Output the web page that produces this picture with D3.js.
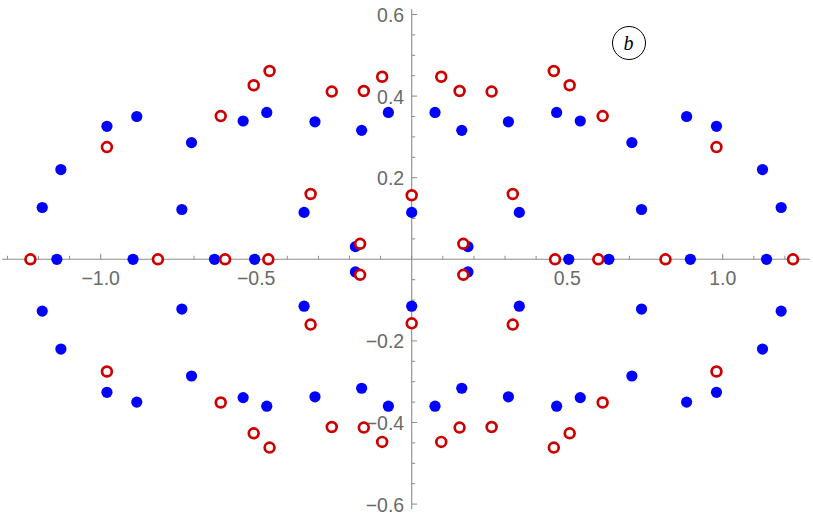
<!DOCTYPE html>
<html>
<head>
<meta charset="utf-8">
<script src="https://cdn.jsdelivr.net/npm/d3@7"></script>
<style>
  html, body { margin: 0; padding: 0; background: #fff; }
  svg { display: block; }
</style>
</head>
<body>
<svg id="chart" width="813" height="521"></svg>
<script>
// ---- data ----
const blueX = [
  0, 0,
  0.505, 0.634, 0.896, 1.141, -0.505, -0.634, -0.896, -1.141,
  0.075, 0.161, 0.181, 0.311, 0.346, 0.466, 0.542, 0.708, 0.739, 0.884, 0.980, 1.128, 1.188,
  -0.075, -0.161, -0.181, -0.311, -0.346, -0.466, -0.542, -0.708, -0.739, -0.884, -0.980, -1.128, -1.188,
  0.075, 0.161, 0.181, 0.311, 0.346, 0.466, 0.542, 0.708, 0.739, 0.884, 0.980, 1.128, 1.188,
  -0.075, -0.161, -0.181, -0.311, -0.346, -0.466, -0.542, -0.708, -0.739, -0.884, -0.980, -1.128, -1.188
];
const blueY = [
  0.115, -0.115,
  0, 0, 0, 0, 0, 0, 0, 0,
  0.360, 0.316, 0.031, 0.337, 0.115, 0.360, 0.339, 0.286, 0.122, 0.350, 0.326, 0.220, 0.127,
  0.360, 0.316, 0.031, 0.337, 0.115, 0.360, 0.339, 0.286, 0.122, 0.350, 0.326, 0.220, 0.127,
  -0.360, -0.316, -0.031, -0.337, -0.115, -0.360, -0.339, -0.286, -0.122, -0.350, -0.326, -0.220, -0.127,
  -0.360, -0.316, -0.031, -0.337, -0.115, -0.360, -0.339, -0.286, -0.122, -0.350, -0.326, -0.220, -0.127
];
const redX = [
  0, 0,
  0.461, 0.600, 0.816, 1.226, -0.461, -0.600, -0.816, -1.226,
  0.095, 0.154, 0.166, 0.257, 0.325, 0.457, 0.508, 0.614, 0.980,
  -0.095, -0.154, -0.166, -0.257, -0.325, -0.457, -0.508, -0.614, -0.980,
  0.095, 0.154, 0.166, 0.257, 0.325, 0.457, 0.508, 0.614, 0.980,
  -0.095, -0.154, -0.166, -0.257, -0.325, -0.457, -0.508, -0.614, -0.980
];
const redY = [
  0.157, -0.157,
  0, 0, 0, 0, 0, 0, 0, 0,
  0.4475, 0.4125, 0.038, 0.411, 0.160, 0.4615, 0.4265, 0.351, 0.275,
  0.4475, 0.4125, 0.038, 0.411, 0.160, 0.4615, 0.4265, 0.351, 0.275,
  -0.4475, -0.4125, -0.038, -0.411, -0.160, -0.4615, -0.4265, -0.351, -0.275,
  -0.4475, -0.4125, -0.038, -0.411, -0.160, -0.4615, -0.4265, -0.351, -0.275
];
const xMajorTicks = [-1.0, -0.5, 0.5, 1.0];
const yMajorTicks = [-0.6, -0.4, -0.2, 0.2, 0.4, 0.6];
const panelLabel = "b";

// ---- layout ----
const svg = d3.select("#chart");
const x = d3.scaleLinear().domain([-1, 1]).range([100.7, 722.7]);
const y = d3.scaleLinear().domain([-0.6, 0.6]).range([504.1, 14.5]);
const xExtent = [-1.317, 1.28];
const yExtent = [-0.612, 0.613];

const axisColor = "#8c8c8c";
const labelColor = "#6a6a6a";
const fmt = v => d3.format(".1f")(v).replace("-", "\u2212");

const ax = svg.append("g");
// axis lines
ax.append("line")
  .attr("x1", x(xExtent[0])).attr("x2", x(xExtent[1]))
  .attr("y1", y(0)).attr("y2", y(0))
  .attr("stroke", axisColor).attr("stroke-width", 1.1);
ax.append("line")
  .attr("x1", x(0)).attr("x2", x(0))
  .attr("y1", y(yExtent[0])).attr("y2", y(yExtent[1]))
  .attr("stroke", axisColor).attr("stroke-width", 1.1);

// x ticks
const xMinor = d3.range(-13, 13).map(i => i / 10).filter(v => v >= xExtent[0] && v <= xExtent[1]);
ax.selectAll(".xminor").data(xMinor).join("line")
  .attr("x1", d => x(d)).attr("x2", d => x(d))
  .attr("y1", y(0)).attr("y2", d => y(0) - (xMajorTicks.some(m => Math.abs(m - d) < 1e-9) ? 5.5 : 3.5))
  .attr("stroke", axisColor).attr("stroke-width", 1);
ax.selectAll(".xlab").data(xMajorTicks).join("text")
  .attr("x", d => x(d)).attr("y", y(0) + 25.5)
  .attr("text-anchor", "middle")
  .attr("font-family", "'Liberation Sans', Arial, sans-serif")
  .attr("font-size", 19.5).attr("fill", labelColor)
  .text(fmt);

// y ticks
const yMinor = d3.range(-12, 13).map(i => i / 20).filter(v => Math.abs(v) > 1e-9);
ax.selectAll(".yminor").data(yMinor).join("line")
  .attr("y1", d => y(d)).attr("y2", d => y(d))
  .attr("x1", x(0)).attr("x2", d => x(0) + (yMajorTicks.some(m => Math.abs(m - d) < 1e-9) ? 5.5 : 3.5))
  .attr("stroke", axisColor).attr("stroke-width", 1);
ax.selectAll(".ylab").data(yMajorTicks).join("text")
  .attr("x", x(0) - 7.5).attr("y", d => y(d) + 7.5)
  .attr("text-anchor", "end")
  .attr("font-family", "'Liberation Sans', Arial, sans-serif")
  .attr("font-size", 19.5).attr("fill", labelColor)
  .text(fmt);

// points
const blue = blueX.map((v, i) => ({ x: v, y: blueY[i] }));
const red = redX.map((v, i) => ({ x: v, y: redY[i] }));

svg.append("g").selectAll("circle").data(blue).join("circle")
  .attr("cx", d => x(d.x)).attr("cy", d => y(d.y))
  .attr("r", 5.6).attr("fill", "#0000ff");

svg.append("g").selectAll("circle").data(red).join("circle")
  .attr("cx", d => x(d.x)).attr("cy", d => y(d.y))
  .attr("r", 4.9).attr("fill", "#ffffff")
  .attr("stroke", "#cc0000").attr("stroke-width", 2.7);

// panel label
const pl = svg.append("g").attr("transform", "translate(629,43)");
pl.append("circle").attr("r", 16.5).attr("fill", "none").attr("stroke", "#000").attr("stroke-width", 1);
pl.append("text").attr("x", -0.5).attr("y", 6.5)
  .attr("text-anchor", "middle")
  .attr("font-family", "'Liberation Serif', 'Times New Roman', serif")
  .attr("font-style", "italic").attr("font-size", 20)
  .text(panelLabel);
</script>
</body>
</html>
